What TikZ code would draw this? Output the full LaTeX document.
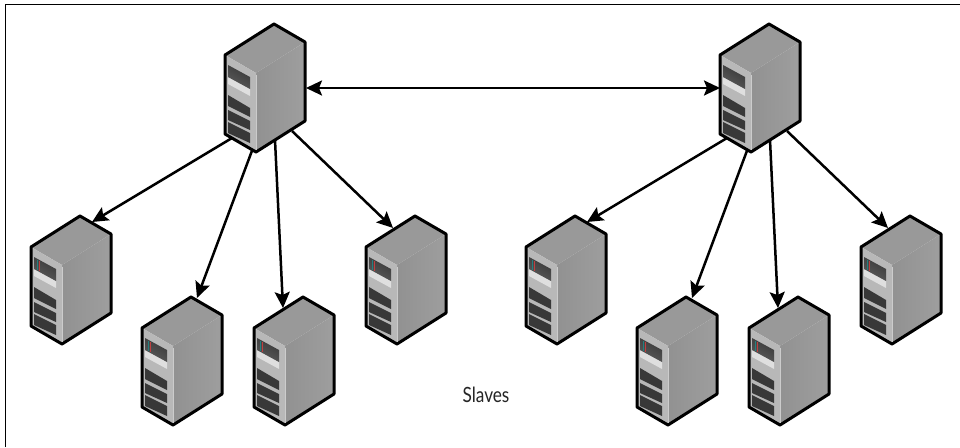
\documentclass[tikz,border=0pt]{standalone}
\usepackage{fontspec}
\setmainfont{Lato}
\usetikzlibrary{arrows.meta}
\definecolor{topface}{gray}{0.60}
\definecolor{sideA}{gray}{0.57}
\definecolor{sideB}{gray}{0.62}
\definecolor{frontface}{gray}{0.72}
\definecolor{panel}{gray}{0.22}
\definecolor{panelB}{gray}{0.36}
\tikzset{
  x=1pt,y=-1pt,
  link/.style={draw=black,line width=2.5pt,-{Stealth[length=16pt,width=15pt,inset=3pt]}},
  duplex/.style={draw=black,line width=2.5pt,{Stealth[length=16pt,width=15pt,inset=3pt]}-{Stealth[length=16pt,width=15pt,inset=3pt]}},
  outline/.style={draw=black,line width=3pt,line join=round},
  frameline/.style={draw=black,line width=1.8pt},
  server/.pic={
    \fill[topface] (0,0) -- (31,18) -- (-18,49) -- (-49,31) -- cycle;
    \shade[left color=sideA,right color=sideB] (-18,49) -- (31,18) -- (31,97) -- (-18,128) -- cycle;
    \fill[frontface] (-49,31) -- (-18,49) -- (-18,128) -- (-49,110) -- cycle;
    \fill[gray!25] (-46,53) -- (-24,65) -- (-24,72) -- (-46,60) -- cycle;
    \shade[top color=panel,bottom color=panelB,shading angle=-30] (-46,41) -- (-24,53) -- (-24,65) -- (-46,53) -- cycle;
    \fill[panel] (-46,71) -- (-24,84) -- (-24,93) -- (-46,82) -- cycle;
    \fill[panel] (-46,86) -- (-24,97) -- (-24,106) -- (-46,96) -- cycle;
    \fill[panel] (-46,98) -- (-24,109) -- (-24,119) -- (-46,109) -- cycle;
    \draw[outline] (0,0) -- (31,18) -- (31,97) -- (-18,128) -- (-49,110) -- (-49,31) -- cycle;
    \draw[white!60!gray,line width=.8pt] (-18,51) -- (-18,126);
  },
  slavebox/.pic={
    \pic {server};
    \fill[teal!70!gray] (-43,44) rectangle (-42,54);
    \fill[red!50!gray] (-41,45) rectangle (-40,55);
  }
}
\begin{document}
\begin{tikzpicture}
\useasboundingbox (0,0) rectangle (960,447);
\fill[white] (0,0) rectangle (960,447);
\coordinate (fa) at (5.5,447);
\coordinate (fb) at (5.5,4.5);
\coordinate (fc) at (960,4.5);
\draw[frameline] (fa) -- (fb) -- (fc);
% link end points
\coordinate (a1) at (232,138); \coordinate (a2) at (253,148); \coordinate (a3) at (275,140); \coordinate (a4) at (292,131);
\coordinate (b1) at (727,138); \coordinate (b2) at (748,148); \coordinate (b3) at (770,140); \coordinate (b4) at (787,131);
\coordinate (i1) at (92,222); \coordinate (i2) at (197,298); \coordinate (i3) at (283,308); \coordinate (i4) at (393,228);
\coordinate (j1) at (587,222); \coordinate (j2) at (692,298); \coordinate (j3) at (778,308); \coordinate (j4) at (888,228);
\coordinate (dl) at (306,88); \coordinate (dr) at (720,88);
\draw[duplex] (dl) -- (dr);
\foreach \p/\q in {a1/i1,a2/i2,a3/i3,a4/i4,b1/j1,b2/j2,b3/j3,b4/j4} \draw[link] (\p) -- (\q);
\pic (m1) at (274,24) {server};
\pic (m2) at (769,24) {server};
\pic (s1) at (80,216) {slavebox};
\pic (s2) at (191,297) {slavebox};
\pic (s3) at (303,297) {slavebox};
\pic (s4) at (415,216) {slavebox};
\pic (s5) at (575,216) {slavebox};
\pic (s6) at (686,297) {slavebox};
\pic (s7) at (798,297) {slavebox};
\pic (s8) at (910,216) {slavebox};
\node[text=black!85,inner sep=0pt] (lbl) at (486,395) {\scalebox{.82}[1]{\fontsize{21}{24}\selectfont Slaves}};
\end{tikzpicture}
\end{document}
